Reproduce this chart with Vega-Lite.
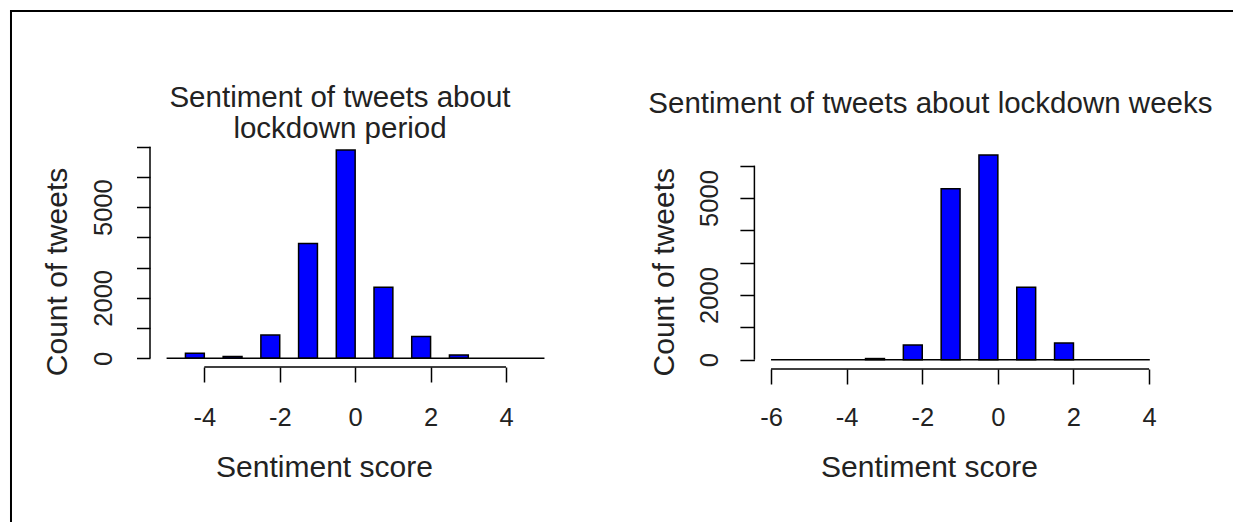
{
  "$schema": "https://vega.github.io/schema/vega-lite/v6.json",
  "width": 1233,
  "height": 522,
  "padding": 0,
  "autosize": "none",
  "background": "white",
  "config": {
    "view": {"stroke": null},
    "font": "Liberation Sans",
    "axis": {
      "domain": false,
      "grid": false,
      "tickColor": "#000000",
      "tickWidth": 1.5,
      "labelColor": "#222222",
      "titleColor": "#222222",
      "labelFont": "Liberation Sans",
      "titleFont": "Liberation Sans",
      "titleFontWeight": "normal",
      "labelFontSize": 25.5,
      "titleFontSize": 30,
      "labelFlush": false,
      "labelOverlap": false,
      "labelBound": false
    }
  },
  "resolve": {
    "scale": {"x": "independent", "y": "independent"},
    "axis": {"x": "independent", "y": "independent"}
  },
  "layer": [
    {
      "layer": [
        {
          "data": {"values": [
            {"lo": -4.5, "hi": -4, "count": 170},
            {"lo": -3.5, "hi": -3, "count": 60},
            {"lo": -2.5, "hi": -2, "count": 770},
            {"lo": -1.5, "hi": -1, "count": 3800},
            {"lo": -0.5, "hi": 0, "count": 6890},
            {"lo": 0.5, "hi": 1, "count": 2350},
            {"lo": 1.5, "hi": 2, "count": 720},
            {"lo": 2.5, "hi": 3, "count": 110}
          ]},
          "mark": {"type": "rect", "fill": "#0000FF", "stroke": "#000000", "strokeWidth": 1.5},
          "encoding": {
            "x": {
              "field": "lo", "type": "quantitative",
              "scale": {"domain": [-5.44, 5.44], "range": [150, 560.3], "nice": false, "zero": false, "padding": 0},
              "axis": {
                "orient": "bottom", "offset": -155,
                "values": [-4, -2, 0, 2, 4],
                "tickSize": 15, "labelPadding": 43.3, "labelBaseline": "alphabetic",
                "labelExpr": "'' + datum.value",
                "title": "Sentiment score", "titleX": 324, "titleY": 109,
                "titleBaseline": "alphabetic", "titleAlign": "center"
              }
            },
            "x2": {"field": "hi"},
            "y": {
              "field": "count", "type": "quantitative",
              "scale": {"domain": [-290, 7197], "range": [367.1, 140.7], "nice": false, "zero": false, "padding": 0},
              "axis": {
                "orient": "left", "offset": -150,
                "values": [0, 1000, 2000, 3000, 4000, 5000, 6000, 7000],
                "tickSize": 13.5, "labelAngle": -90, "labelAlign": "center",
                "labelBaseline": "alphabetic", "labelPadding": 24.9,
                "labelExpr": "datum.value == 0 || datum.value == 2000 || datum.value == 5000 ? '' + datum.value : ''",
                "title": "Count of tweets", "titleX": -83.3, "titleY": 271.5,
                "titleBaseline": "alphabetic", "titleAlign": "center", "titleAngle": 270
              }
            },
            "y2": {"datum": 0}
          }
        },
        {
          "data": {"values": [{}]},
          "mark": {"type": "rule", "stroke": "#000000", "strokeWidth": 1.5},
          "encoding": {"x": {"datum": -5}, "x2": {"datum": 5.02}, "y": {"datum": 0}}
        },
        {
          "data": {"values": [{}]},
          "mark": {"type": "rule", "stroke": "#000000", "strokeWidth": 1.5},
          "encoding": {"x": {"datum": -5.44}, "y": {"datum": 0}, "y2": {"datum": 7000}}
        },
        {
          "data": {"values": [{}]},
          "mark": {"type": "rule", "stroke": "#000000", "strokeWidth": 1.5},
          "encoding": {"x": {"datum": -4}, "x2": {"datum": 4}, "y": {"datum": -290}}
        },
        {
          "data": {"values": [{}]},
          "mark": {"type": "text", "text": "Sentiment of tweets about", "align": "center", "baseline": "alphabetic", "fontSize": 29.5, "font": "Liberation Sans", "color": "#222222"},
          "encoding": {"x": {"datum": -0.402}, "y": {"datum": 8318}}
        },
        {
          "data": {"values": [{}]},
          "mark": {"type": "text", "text": "lockdown period", "align": "center", "baseline": "alphabetic", "fontSize": 29.5, "font": "Liberation Sans", "color": "#222222"},
          "encoding": {"x": {"datum": -0.402}, "y": {"datum": 7276}}
        },
        {
          "data": {"values": [{}]},
          "mark": {"type": "rule", "stroke": "#000000", "strokeWidth": 2, "strokeCap": "square", "clip": true},
          "encoding": {"x": {"datum": -9.126}, "y": {"datum": 11486}, "y2": {"datum": -8000}}
        },
        {
          "data": {"values": [{}]},
          "mark": {"type": "rule", "stroke": "#000000", "strokeWidth": 2, "strokeCap": "square", "clip": true},
          "encoding": {"x": {"datum": -9.126}, "x2": {"datum": 26}, "y": {"datum": 11486}}
        }
      ]
    },
    {
      "layer": [
        {
          "data": {"values": [
            {"lo": -3.5, "hi": -3, "count": 35},
            {"lo": -2.5, "hi": -2, "count": 455},
            {"lo": -1.5, "hi": -1, "count": 5290},
            {"lo": -0.5, "hi": 0, "count": 6330},
            {"lo": 0.5, "hi": 1, "count": 2240},
            {"lo": 1.5, "hi": 2, "count": 515}
          ]},
          "mark": {"type": "rect", "fill": "#0000FF", "stroke": "#000000", "strokeWidth": 1.5},
          "encoding": {
            "x": {
              "field": "lo", "type": "quantitative",
              "scale": {"domain": [-6.44, 4.44], "range": [754.4, 1165.7], "nice": false, "zero": false, "padding": 0},
              "axis": {
                "orient": "bottom", "offset": -153,
                "values": [-6, -4, -2, 0, 2, 4],
                "tickSize": 15, "labelPadding": 41.3, "labelBaseline": "alphabetic",
                "labelExpr": "'' + datum.value",
                "title": "Sentiment score", "titleX": 929, "titleY": 107,
                "titleBaseline": "alphabetic", "titleAlign": "center"
              }
            },
            "x2": {"field": "hi"},
            "y": {
              "field": "count", "type": "quantitative",
              "scale": {"domain": [-288, 6800], "range": [369, 139.86], "nice": false, "zero": false, "padding": 0},
              "axis": {
                "orient": "left", "offset": -754.4,
                "values": [0, 1000, 2000, 3000, 4000, 5000, 6000],
                "tickSize": 14.5, "labelAngle": -90, "labelAlign": "center",
                "labelBaseline": "alphabetic", "labelPadding": 22.9,
                "labelExpr": "datum.value == 0 || datum.value == 2000 || datum.value == 5000 ? '' + datum.value : ''",
                "title": "Count of tweets", "titleX": -80.9, "titleY": 271.7,
                "titleBaseline": "alphabetic", "titleAlign": "center", "titleAngle": 270
              }
            },
            "y2": {"datum": 0}
          }
        },
        {
          "data": {"values": [{}]},
          "mark": {"type": "rule", "stroke": "#000000", "strokeWidth": 1.5},
          "encoding": {"x": {"datum": -6}, "x2": {"datum": 4.02}, "y": {"datum": 0}}
        },
        {
          "data": {"values": [{}]},
          "mark": {"type": "rule", "stroke": "#000000", "strokeWidth": 1.5},
          "encoding": {"x": {"datum": -6.44}, "y": {"datum": 0}, "y2": {"datum": 6000}}
        },
        {
          "data": {"values": [{}]},
          "mark": {"type": "rule", "stroke": "#000000", "strokeWidth": 1.5},
          "encoding": {"x": {"datum": -6}, "x2": {"datum": 4}, "y": {"datum": -288}}
        },
        {
          "data": {"values": [{}]},
          "mark": {"type": "text", "text": "Sentiment of tweets about lockdown weeks", "align": "center", "baseline": "alphabetic", "fontSize": 29.5, "font": "Liberation Sans", "color": "#222222"},
          "encoding": {"x": {"datum": -1.784}, "y": {"datum": 7640}}
        }
      ]
    }
  ]
}
